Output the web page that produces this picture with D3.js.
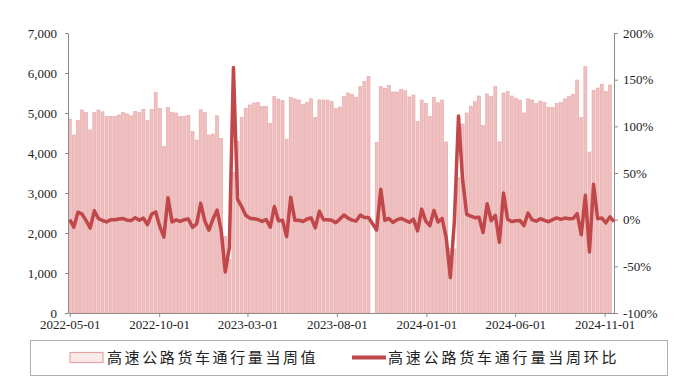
<!DOCTYPE html>
<html>
<head>
<meta charset="utf-8">
<script src="https://cdn.jsdelivr.net/npm/d3@7/dist/d3.min.js"></script>
<style>
  html, body { margin: 0; padding: 0; background: #fff; }
  svg { display: block; }
  text { font-family: "Liberation Serif", "Times New Roman", "Noto Sans CJK SC", serif; }
</style>
</head>
<body>
<svg id="chart" width="685" height="383"></svg>
<script>
// Weekly highway truck traffic (weeks starting 2022-05-01) and week-over-week change
const firstWeek = "2022-05-01";

const weeklyVolume = [
  4850, 4450, 4810, 5075, 5015, 4575, 5010, 5075, 5030, 4910,
  4910, 4910, 4950, 5010, 4980, 4930, 5040, 5010, 5090, 4815,
  5090, 5510, 5115, 4160, 5140, 5010, 5000, 4910, 4910, 4940,
  4535, 4325, 5080, 5015, 4450, 4475, 4930, 4365, 1910, 1340,
  3520, 4290, 4890, 5120, 5200, 5250, 5258, 5160, 5160, 4742,
  5410, 5345, 5310, 4345, 5390, 5355, 5325, 5220, 5260, 5355,
  4885, 5325, 5325, 5325, 5292, 5120, 5150, 5410, 5500, 5470,
  5392, 5658, 5783, 5915, null, 4267, 5658, 5617, 5690, 5525,
  5525, 5595, 5558, 5400, 5450, 4783, 5325, 5242, 4908, 5390,
  5255, 5325, 4275, 1620, 1600, 3380, 4725, 5000, 5170, 5283,
  5425, 4685, 5475, 5408, 5658, 4280, 5500, 5533, 5425, 5367,
  5325, 5000, 5355, 5325, 5235, 5300, 5258, 5140, 5140, 5240,
  5258, 5355, 5408, 5470, 5825, 4883, 6158, 4025, 5565, 5625,
  5720, 5533, 5700, null
];

const weeklyChange = [
   0.0,  -8.0,   8.0,   6.0,  -1.0,  -9.0,   9.5,   1.3,  -0.9,  -2.4,
   0.0,   0.0,   0.8,   1.2,  -0.6,  -1.0,   2.2,  -0.6,   1.6,  -5.4,
   5.7,   8.3,  -7.2, -18.7,  23.6,  -2.5,  -0.2,  -1.8,   0.0,   0.6,
  -8.2,  -4.6,  17.5,  -1.3, -11.3,   0.6,  10.2, -11.5, -56.0, -30.0,
 163.0,  22.0,  14.0,   4.7,   1.6,   1.0,   0.2,  -1.9,   0.0,  -8.1,
  14.1,  -1.2,  -0.7, -18.2,  24.0,  -0.6,  -0.6,  -2.0,   0.8,   1.8,
  -8.8,   9.0,   0.0,   0.0,  -0.6,  -3.3,   0.6,   5.0,   1.7,  -0.5,
  -1.4,   4.9,   2.2,   2.3,  null, -11.0,  32.6,  -0.7,   1.3,  -2.9,
   0.0,   1.3,  -0.7,  -2.8,   0.6, -12.0,  11.3,  -1.6,  -6.4,   9.9,
  -2.5,   1.3, -19.6, -62.0,  -1.0, 111.0,  43.0,   5.7,   3.7,   2.1,
   2.7, -13.8,  17.1,  -1.2,   4.6, -24.3,  28.6,   0.5,  -2.0,  -1.1,
  -0.8,  -6.3,   7.0,  -0.3,  -1.6,   1.1,  -0.8,  -2.2,   0.0,   1.9,
   0.3,   1.7,   1.0,   1.2,   6.4, -16.2,  26.1, -34.6,  38.0,   1.1,
   1.8,  -3.4,   3.0,  -2.0
];

const xTickLabels = ["2022-05-01", "2022-10-01", "2023-03-01", "2023-08-01", "2024-01-01", "2024-06-01", "2024-11-01"];
const leftTicks = [0, 1000, 2000, 3000, 4000, 5000, 6000, 7000];
const rightTicks = [-100, -50, 0, 50, 100, 150, 200];
const seriesNames = ["高速公路货车通行量当周值", "高速公路货车通行量当周环比"];

const parse = d3.utcParse("%Y-%m-%d");
const start = parse(firstWeek);
const weeks = weeklyChange.map((_, i) => d3.utcDay.offset(start, 7 * i));

const data = weeks.map((d, i) => ({ date: d, vol: weeklyVolume[i], chg: weeklyChange[i] }));

const svg = d3.select("#chart");
const plot = { left: 68, right: 614, top: 33, bottom: 313 };

const x = d3.scaleUtc()
  .domain([d3.utcDay.offset(start, -3), weeks[weeks.length - 1]])
  .range([plot.left, plot.right]);
const yL = d3.scaleLinear().domain([0, 7000]).range([plot.bottom, plot.top]);
const yR = d3.scaleLinear().domain([-100, 200]).range([plot.bottom, plot.top]);

const barColor = "#f0bfbf";
const barEdge = "#e6a4a4";
const lineColor = "#c0474a";
const axisColor = "#8c8c8c";
const textColor = "#222";

svg.append("clipPath").attr("id", "plotClip")
  .append("rect")
  .attr("x", plot.left).attr("y", plot.top - 10)
  .attr("width", plot.right - plot.left).attr("height", plot.bottom - plot.top + 10);

// bars
const barW = 3;
svg.append("g").attr("clip-path", "url(#plotClip)")
  .selectAll("rect")
  .data(data.filter(d => d.vol != null))
  .join("rect")
  .attr("x", d => x(d.date) - barW / 2)
  .attr("y", d => yL(d.vol))
  .attr("width", barW)
  .attr("height", d => yL(0) - yL(d.vol))
  .attr("fill", barColor)
  .attr("stroke", barEdge)
  .attr("stroke-width", 0.6);

// axes
const axisStyle = g => {
  g.selectAll(".domain").attr("stroke", axisColor);
  g.selectAll(".tick line").attr("stroke", axisColor);
  g.selectAll(".tick text").attr("fill", textColor).style("font-size", "13px");
};

svg.append("g")
  .attr("transform", `translate(${plot.left},0)`)
  .call(d3.axisLeft(yL).tickValues(leftTicks).tickFormat(d3.format(",")).tickSize(3).tickSizeOuter(0).tickPadding(8))
  .call(axisStyle);

svg.append("g")
  .attr("transform", `translate(${plot.right},0)`)
  .call(d3.axisRight(yR).tickValues(rightTicks).tickFormat(d => d + "%").tickSize(4).tickSizeOuter(0).tickPadding(5))
  .call(axisStyle);

svg.append("g")
  .attr("transform", `translate(0,${plot.bottom})`)
  .call(d3.axisBottom(x).tickValues(xTickLabels.map(parse)).tickFormat(d3.utcFormat("%Y-%m-%d")).tickSize(4).tickSizeOuter(0).tickPadding(3))
  .call(axisStyle);

// change line
const line = d3.line()
  .x(d => x(d.date))
  .y(d => yR(d.chg))
  .curve(d3.curveLinear);

svg.append("path")
  .datum(data.filter(d => d.chg != null))
  .attr("d", line)
  .attr("fill", "none")
  .attr("stroke", lineColor)
  .attr("stroke-width", 3.5)
  .attr("stroke-linejoin", "round");

// legend
const lg = svg.append("g");
lg.append("rect")
  .attr("x", 30.5).attr("y", 340.5).attr("width", 637).attr("height", 35)
  .attr("fill", "none").attr("stroke", "#b0b0b0");
lg.append("rect")
  .attr("x", 70).attr("y", 352.5).attr("width", 33).attr("height", 10)
  .attr("fill", "#fbeaea").attr("stroke", barEdge).attr("stroke-width", 1.2);
lg.append("text")
  .attr("x", 107).attr("y", 363)
  .style("font-size", "15px").style("letter-spacing", "2.6px")
  .attr("fill", textColor)
  .text(seriesNames[0]);
lg.append("line")
  .attr("x1", 352).attr("x2", 386).attr("y1", 357.5).attr("y2", 357.5)
  .attr("stroke", lineColor).attr("stroke-width", 4);
lg.append("text")
  .attr("x", 388).attr("y", 363)
  .style("font-size", "15px").style("letter-spacing", "2.8px")
  .attr("fill", textColor)
  .text(seriesNames[1]);
</script>
</body>
</html>
